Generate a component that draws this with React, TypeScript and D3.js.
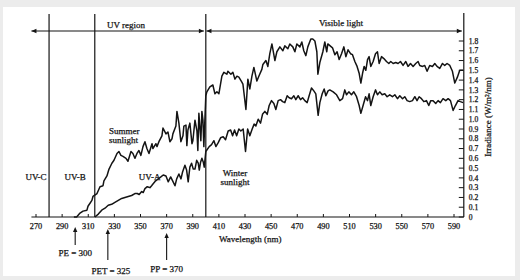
import React from "react";
import * as d3 from "d3";

// ---------- data ----------
const summerWavelength = [
  299, 301.1, 303.7, 306, 309, 309.8, 312.8, 313.6, 316.7, 319, 321.3, 322, 324.3, 325.9, 328.1, 329.7,
  332, 333.5, 335, 336.6, 338.9, 340.4, 342.7, 344.2, 345.7, 347.3, 348.8, 350.3, 351.9, 353.4, 354.9,
  356.5, 358.8, 359.5, 361.8, 362.6, 364.1, 366.4, 367.2, 369.5, 371, 372.5, 374.1, 374.8, 377.1, 377.9,
  379.4, 380.9, 382.5, 383.2, 384.8, 385.5, 386.3, 387.8, 389.4, 390.1, 391.7, 393.2, 393.9, 394.7, 396.2,
  397, 397.8, 398.5, 400.0, 400.8, 403.1, 405.4, 407.0, 408.5, 410.0, 412.3, 413.8, 416.1, 416.9, 419.2,
  420.7, 422.3, 423.8, 425.3, 427.6, 428.4, 430.7, 432.2, 433.7, 435.3, 436.8, 439.1, 440.6, 442.9, 443.7,
  446.0, 447.5, 449.0, 450.6, 451.3, 452.9, 454.4, 456.7, 459.0, 460.5, 462.8, 464.3, 466.6, 468.2, 469.7,
  472.0, 473.5, 475.0, 476.6, 478.1, 480.4, 481.9, 483.5, 485.0, 485.8, 487.3, 489.6, 491.1, 492.6, 493.4,
  497.0, 498.8, 500.5, 502.1, 503.9, 505.7, 507.2, 508.9, 510.8, 512.3, 514.1, 515.8, 517.4, 518.7, 520.0,
  521.2, 522.5, 523.8, 525.0, 526.3, 528.1, 529.9, 531.4, 532.7, 534.5, 536.3, 538.3, 540.1, 541.6, 543.4,
  545.4, 547.2, 549.0, 551.0, 553.1, 554.8, 556.7, 558.7, 560.7, 562.5, 563.8, 565.9, 567.6, 569.4, 571.4,
  573.5, 575.3, 577.0, 579.1, 581.2, 582.9, 584.7, 586.8, 588.8, 590.6, 592.6, 594.4, 596.9,
];
const summerIrradiance = [
  0, 0, 0.04, 0.06, 0.07, 0.11, 0.17, 0.21, 0.24, 0.31, 0.32, 0.37, 0.42, 0.49, 0.55, 0.58,
  0.65, 0.67, 0.63, 0.62, 0.6, 0.57, 0.67, 0.65, 0.6, 0.65, 0.68, 0.63, 0.72, 0.77, 0.7,
  0.65, 0.75, 0.7, 0.75, 0.72, 0.77, 0.83, 0.91, 0.85, 0.87, 0.77, 0.8, 0.85, 0.93, 1.08,
  0.96, 0.77, 0.83, 0.93, 0.94, 0.73, 0.89, 0.96, 0.75, 0.78, 0.99, 0.88, 0.68, 1.06, 0.78,
  1.08, 0.99, 0.72, 1.24, 1.28, 1.33, 1.35, 1.26, 1.28, 1.26, 1.44, 1.48, 1.46, 1.49, 1.46,
  1.48, 1.41, 1.44, 1.43, 1.38, 1.36, 1.1, 1.41, 1.31, 1.44, 1.53, 1.39, 1.44, 1.51, 1.56,
  1.6, 1.54, 1.67, 1.77, 1.72, 1.6, 1.69, 1.74, 1.7, 1.75, 1.72, 1.77, 1.74, 1.69, 1.77,
  1.74, 1.79, 1.7, 1.65, 1.74, 1.82, 1.82, 1.8, 1.69, 1.46, 1.58, 1.69, 1.79, 1.69, 1.77,
  1.73, 1.66, 1.69, 1.61, 1.67, 1.74, 1.64, 1.71, 1.67, 1.66, 1.59, 1.54, 1.47, 1.37, 1.47,
  1.54, 1.5, 1.61, 1.64, 1.54, 1.59, 1.67, 1.69, 1.57, 1.64, 1.62, 1.59, 1.57, 1.59, 1.57,
  1.58, 1.57, 1.59, 1.55, 1.59, 1.54, 1.57, 1.54, 1.57, 1.59, 1.55, 1.54, 1.55, 1.49, 1.55,
  1.54, 1.57, 1.54, 1.52, 1.57, 1.55, 1.57, 1.55, 1.49, 1.37, 1.43, 1.5, 1.5,
];

const winterWavelength = [
  315.1, 317.7, 320.3, 322.8, 325.3, 327.9, 330.4, 333, 335.6, 338.1, 340.6, 343.2, 345.7, 347.5, 349,
  350.9, 352.1, 353.4, 355.2, 357.2, 358.5, 359.7, 361.6, 363.6, 365.6, 367.4, 369.5, 371.2, 373.1, 374.6,
  376.4, 377.7, 379.4, 381, 382.2, 384, 385.3, 386.5, 387.8, 389.1, 390.4, 391.7, 393, 394.2, 395, 396,
  397, 398.1, 398.8, 400.0, 402.6, 404.4, 406.2, 407.7, 409.5, 411.3, 413.3, 415.1, 417.1, 419.0, 420.5,
  422.0, 423.6, 425.3, 426.8, 428.6, 430.4, 432.0, 433.7, 435.5, 437.0, 438.3, 440.1, 441.9, 443.4, 445.2,
  447.0, 448.5, 450.3, 452.1, 453.6, 455.4, 457.2, 458.8, 460.5, 462.3, 463.8, 465.6, 467.4, 468.9, 470.7,
  472.5, 474.1, 475.8, 477.6, 479.1, 480.9, 482.7, 484.2, 486.0, 487.3, 489.1, 490.6, 491.9, 493.6, 494.9,
  497.5, 500.1, 502.6, 504.7, 506.4, 507.7, 509.5, 511.5, 513.3, 515.4, 517.4, 518.7, 520.4, 522.3, 523.8,
  525.0, 526.3, 528.1, 529.9, 531.4, 533.2, 535.0, 537.0, 538.8, 540.8, 542.9, 544.7, 546.7, 548.5, 550.6,
  552.3, 554.1, 556.1, 558.2, 560.0, 561.7, 563.3, 565.1, 566.9, 568.9, 570.7, 572.2, 574.0, 576.0, 577.8,
  579.6, 581.6, 583.7, 585.5, 587.3, 589.3, 591.1, 593.1, 594.9, 596.9,
];
const winterIrradiance = [
  0, 0.03, 0.07, 0.09, 0.12, 0.13, 0.15, 0.17, 0.19, 0.2, 0.21, 0.22, 0.24, 0.24, 0.23,
  0.26, 0.25, 0.29, 0.31, 0.3, 0.32, 0.34, 0.37, 0.39, 0.41, 0.43, 0.42, 0.36, 0.41, 0.37,
  0.32, 0.39, 0.44, 0.39, 0.46, 0.53, 0.48, 0.36, 0.51, 0.55, 0.49, 0.49, 0.58, 0.55, 0.48, 0.56,
  0.6, 0.56, 0.51, 0.67, 0.72, 0.74, 0.78, 0.72, 0.76, 0.81, 0.82, 0.79, 0.88, 0.89, 0.83,
  0.89, 0.83, 0.9, 0.88, 0.9, 0.67, 0.9, 0.83, 0.9, 0.95, 0.93, 1.0, 0.96, 1.05, 1.08,
  1.05, 1.14, 1.19, 1.16, 1.1, 1.19, 1.2, 1.18, 1.17, 1.24, 1.22, 1.21, 1.24, 1.2, 1.24,
  1.2, 1.22, 1.19, 1.17, 1.24, 1.32, 1.29, 1.26, 1.04, 1.17, 1.26, 1.31, 1.24, 1.29, 1.3,
  1.28, 1.25, 1.19, 1.21, 1.3, 1.25, 1.28, 1.25, 1.28, 1.23, 1.14, 1.06, 1.14, 1.23, 1.19,
  1.26, 1.14, 1.23, 1.3, 1.25, 1.28, 1.25, 1.26, 1.23, 1.25, 1.23, 1.25, 1.21, 1.24, 1.21,
  1.23, 1.19, 1.18, 1.19, 1.23, 1.19, 1.23, 1.21, 1.18, 1.19, 1.14, 1.19, 1.19, 1.16, 1.19,
  1.17, 1.21, 1.19, 1.21, 1.19, 1.09, 1.14, 1.19, 1.18, 1.17,
];

const xTickLabels = [270, 290, 310, 330, 350, 370, 390, 410, 430, 450, 470, 490, 510, 530, 550, 570, 590];
const yTicks = [0, 0.1, 0.2, 0.3, 0.4, 0.5, 0.6, 0.7, 0.8, 0.9, 1.0, 1.1, 1.2, 1.3, 1.4, 1.5, 1.6, 1.7, 1.8];
const bandBoundaries = [280, 315, 400];
const bandLabels = ["UV-C", "UV-B", "UV-A"];
const bandLabelWavelengths = [270, 300, 357];
const markerWavelengths = [300, 325, 370];
const markerLabels = ["PE = 300", "PET = 325", "PP = 370"];

// ---------- layout ----------
const W = 520;
const H = 280;
const FONT = "'Liberation Serif', 'Times New Roman', 'DejaVu Serif', serif";
const INK = "#141414";
const x = d3.scaleLinear().domain([270, 590]).range([36, 454]);
const y = d3.scaleLinear().domain([0, 1.8]).range([217, 41]);
const axisEndNm = 597.5;
const axisStartNm = 266.5;

function arrowHead(px: number, py: number, dir: "l" | "r" | "u") {
  const L = 5, w = 2.2;
  let pts: number[][];
  if (dir === "l") pts = [[px, py], [px + L, py - w], [px + L, py + w]];
  else if (dir === "r") pts = [[px, py], [px - L, py - w], [px - L, py + w]];
  else pts = [[px, py], [px - w, py + L], [px + w, py + L]];
  return <polygon points={pts.map((p) => p.join(",")).join(" ")} fill={INK} />;
}

const textStyle = { stroke: INK, strokeWidth: 0.25 } as const;

export default function App() {
  const summerPath =
    d3.line<number>().x((_, i) => x(summerWavelength[i])).y((d) => y(d))(summerIrradiance) || "";
  const winterPath =
    d3.line<number>().x((_, i) => x(winterWavelength[i])).y((d) => y(d))(winterIrradiance) || "";

  const y0 = y(0);
  const axisX = x(axisEndNm);
  const arrowY = 31;
  const vTop = 14;

  const markerTip = [227, 229, 233];
  const markerBottom = [245, 260, 260];
  const markerTextY = [256, 274, 272];
  const markerTextDx = [0, 3, 0];

  return (
    <svg
      width={W}
      height={H}
      viewBox={`0 0 ${W} ${H}`}
      style={{ position: "absolute", left: 0, top: 0, display: "block" }}
      fontFamily={FONT}
    >
      <rect x={0} y={0} width={W} height={H} fill="#ececec" />
      <rect x={3} y={7} width={512} height={269} fill="#ffffff" />

      {bandBoundaries.map((b) => (
        <line key={b} x1={x(b)} x2={x(b)} y1={vTop} y2={y0} stroke={INK} strokeWidth={1.2} />
      ))}
      <line x1={axisX} x2={axisX} y1={vTop - 1} y2={y0} stroke={INK} strokeWidth={1.2} />
      <line x1={x(axisStartNm)} x2={axisX} y1={y0} y2={y0} stroke={INK} strokeWidth={1.2} />

      {xTickLabels.map((t) => (
        <g key={t}>
          <line x1={x(t)} x2={x(t)} y1={y0} y2={y0 - 3} stroke={INK} strokeWidth={1} />
          <text x={x(t)} y={y0 + 12} fontSize={8.3} textAnchor="middle" fill={INK} style={textStyle}>
            {t}
          </text>
        </g>
      ))}
      <text x={219} y={242} fontSize={9} fill={INK} style={textStyle}>
        Wavelength (nm)
      </text>

      {yTicks.map((t) => (
        <g key={t}>
          <line x1={axisX - 5} x2={axisX} y1={y(t)} y2={y(t)} stroke={INK} strokeWidth={1} />
          <text x={axisX + 5} y={y(t) + 2.7} fontSize={7.6} fill={INK} style={textStyle}>
            {t === 0 ? "0" : t.toFixed(1)}
          </text>
        </g>
      ))}
      <text
        transform={`translate(491, 117) rotate(-90)`}
        fontSize={9}
        textAnchor="middle"
        fill={INK}
        style={textStyle}
      >
        Irradiance (W/m²/nm)
      </text>

      <line x1={x(axisStartNm)} x2={x(398.5)} y1={arrowY} y2={arrowY} stroke={INK} strokeWidth={1.1} />
      {arrowHead(x(axisStartNm), arrowY, "l")}
      {arrowHead(x(398.5), arrowY, "r")}
      <line x1={x(400.5)} x2={x(596)} y1={arrowY} y2={arrowY} stroke={INK} strokeWidth={1.1} />
      {arrowHead(x(400.5), arrowY, "l")}
      {arrowHead(x(596), arrowY, "r")}
      <text x={107} y={28} fontSize={9} fill={INK} style={textStyle}>
        UV region
      </text>
      <text x={341} y={26} fontSize={9} textAnchor="middle" fill={INK} style={textStyle}>
        Visible light
      </text>

      <path d={summerPath} fill="none" stroke={INK} strokeWidth={1.5} strokeLinejoin="round" />
      <path d={winterPath} fill="none" stroke={INK} strokeWidth={1.5} strokeLinejoin="round" />

      {bandLabels.map((l, i) => (
        <text
          key={l}
          x={x(bandLabelWavelengths[i])}
          y={180}
          fontSize={9}
          textAnchor="middle"
          fill={INK}
          style={textStyle}
        >
          {l}
        </text>
      ))}
      <text x={109} y={134} fontSize={9} fill={INK} style={textStyle}>
        Summer
      </text>
      <text x={109} y={143} fontSize={9} fill={INK} style={textStyle}>
        sunlight
      </text>
      <text x={235} y={176} fontSize={9} textAnchor="middle" fill={INK} style={textStyle}>
        Winter
      </text>
      <text x={235} y={185} fontSize={9} textAnchor="middle" fill={INK} style={textStyle}>
        sunlight
      </text>

      {markerWavelengths.map((m, i) => (
        <g key={m}>
          <line x1={x(m)} x2={x(m)} y1={markerTip[i] + 3} y2={markerBottom[i]} stroke={INK} strokeWidth={1.1} />
          {arrowHead(x(m), markerTip[i], "u")}
          <text
            x={x(m) + markerTextDx[i]}
            y={markerTextY[i]}
            fontSize={9}
            textAnchor="middle"
            fill={INK}
            style={textStyle}
          >
            {markerLabels[i]}
          </text>
        </g>
      ))}
    </svg>
  );
}
